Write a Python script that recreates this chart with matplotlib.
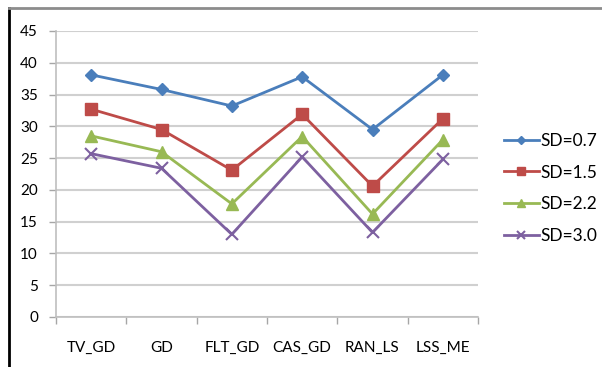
import matplotlib
matplotlib.use("AGG")
import numpy as np
import matplotlib.pyplot as plt
from matplotlib.lines import Line2D

plt.rcParams['font.family'] = ['Lato', 'DejaVu Sans']

methods = ["TV_GD", "GD", "FLT_GD", "CAS_GD", "RAN_LS", "LSS_ME"]
sd07 = [38.1, 35.8, 33.2, 37.8, 29.5, 38.1]
sd15 = [32.7, 29.5, 23.1, 31.9, 20.6, 31.2]
sd22 = [28.5, 26.0, 17.8, 28.4, 16.2, 27.9]
sd30 = [25.7, 23.4, 13.0, 25.2, 13.3, 24.8]

series = [
    ("SD=0.7", sd07, "#4a7ebb", "D", 6.5),
    ("SD=1.5", sd15, "#be4b48", "s", 8),
    ("SD=2.2", sd22, "#98b954", "^", 8),
    ("SD=3.0", sd30, "#7d60a0", "x", 8),
]

W, H = 602, 367
fig = plt.figure(figsize=(W / 100, H / 100), dpi=100)
ax = fig.add_axes([56 / W, (H - 317) / H, 422 / W, 286 / H])

x = np.arange(len(methods))
for name, vals, col, mk, ms in series:
    ax.plot(x, vals, color=col, lw=2, marker=mk, markersize=ms,
            markeredgewidth=1.5 if mk == "x" else 1, label=name)

ax.set_xlim(-0.5, len(methods) - 0.5)
ax.set_ylim(0, 45)
ax.set_yticks(range(0, 50, 5))
ax.set_xticks(x)
ax.set_xticklabels(methods)
ax.set_xticks(np.arange(-0.5, len(methods)), minor=True)
ax.tick_params(axis="x", which="major", length=0, pad=17, labelsize=11)
ax.tick_params(axis="x", which="minor", length=5, color="#a6a6a6", width=1)
ax.tick_params(axis="y", length=5, color="#a6a6a6", width=1, pad=8, labelsize=11)
ax.yaxis.grid(True, color="#d0d0d0", lw=1.5)
ax.set_axisbelow(True)
for s in ["top", "right"]:
    ax.spines[s].set_visible(False)
for s in ["left", "bottom"]:
    ax.spines[s].set_color("#bfbfbf")
    ax.spines[s].set_linewidth(1.2)

fig.legend(loc="upper left", bbox_to_anchor=(497 / W, 1 - 126 / H),
           frameon=False, fontsize=12.5, handlelength=2.0, handletextpad=0.1,
           labelspacing=0.9, borderaxespad=0, markerscale=0.7)

# chart frame edges
fig.add_artist(Line2D([9 / W, 9 / W], [0, 1 - 8 / H], color="black", lw=2,
                      transform=fig.transFigure))
fig.add_artist(Line2D([9 / W, 1], [1 - 8 / H, 1 - 8 / H], color="#8c8c8c",
                      lw=2, transform=fig.transFigure))

fig.savefig("out.png", dpi=100)
